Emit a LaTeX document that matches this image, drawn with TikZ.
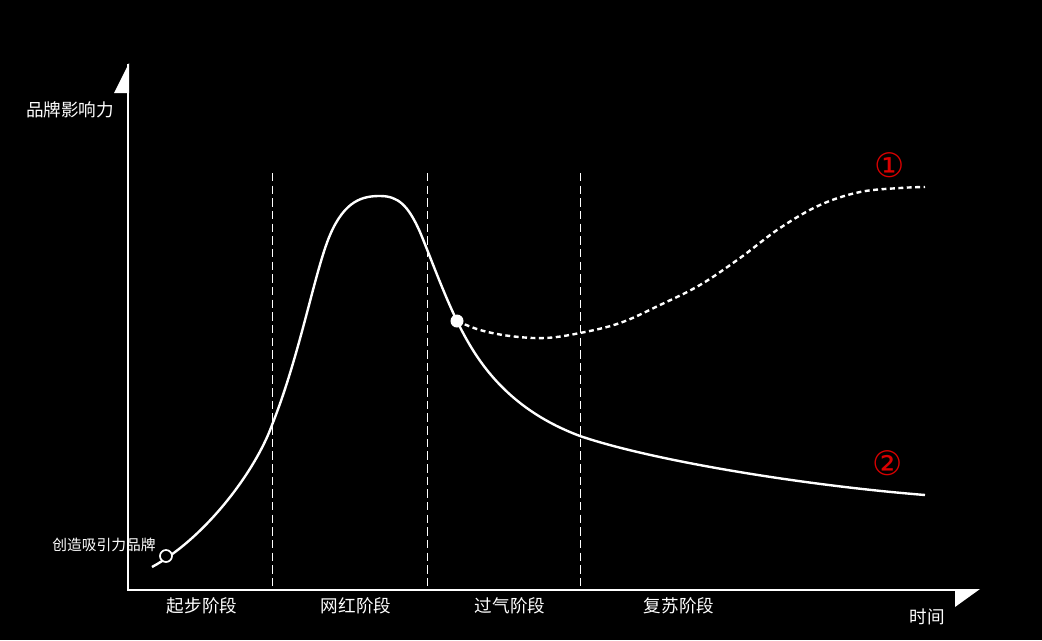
\documentclass[tikz,border=0pt]{standalone}
\usepackage{fontspec}
\setmainfont{Noto Sans CJK SC}
\newfontfamily\symfont{DejaVu Sans}
\begin{document}
\begin{tikzpicture}[x=0.025cm,y=-0.025cm,
  lbl/.style={text=white,font=\fontsize{12.5}{14}\selectfont,inner sep=0pt},
  vdash/.style={white,line width=0.7pt,dash pattern=on 6pt off 3pt},
  curve/.style={white,line width=1.7pt},
  num/.style={text=red!85!black,font=\symfont\fontsize{24}{26}\selectfont,inner sep=0pt}]
\fill[black] (0,0) rectangle (1042,640);
\useasboundingbox (0,0) rectangle (1042,640);
% axes
\coordinate (O) at (128,590);
\coordinate (Ytop) at (128,64);
\coordinate (Xend) at (956,590);
\draw[white,line width=1.5pt] (Xend) -- (O) -- (Ytop);
\fill[white] (129,63) -- (129,93) -- (114,93) -- cycle;
\fill[white] (955,589) -- (980,589) -- (955,607) -- cycle;
% dashed separators
\foreach \x in {272,427,580} \draw[vdash] (\x,173) -- (\x,590);
% markers positions
\coordinate (start) at (166,556);
\coordinate (split) at (457,321);
% solid curve
\draw[curve] (152,567) .. controls (205,538) and (255,472) .. (272,425)
  .. controls (300,355) and (315,270) .. (330,235)
  .. controls (345,200) and (363,196) .. (380,196)
  .. controls (398,196) and (408,205) .. (420,232)
  .. controls (430,256) and (443,292) .. (split)
  .. controls (475,358) and (505,408) .. (580,436)
  .. controls (650,460) and (800,485) .. (925,495);
% dotted curve
\draw[white,line width=1.7pt,dash pattern=on 3.5pt off 2.5pt] plot[smooth,tension=0.6] coordinates {(457,321) (480,330) (510,336) (545,338) (580,333) (620,323) (660,305) (700,285) (740,258) (780,228) (820,205) (860,192) (900,188) (925,187)};
% markers
\fill[white] (split) circle (6.5);
\draw[white,line width=1.2pt,fill=black] (start) circle (6);
% labels
\node[lbl] (ylab) at (70,110) {品牌影响力};
\node[lbl] (xlab) at (927,617) {时间};
\node[lbl] (s1) at (202,606) {起步阶段};
\node[lbl] (s2) at (356,606) {网红阶段};
\node[lbl] (s3) at (510,606) {过气阶段};
\node[lbl] (s4) at (679,606) {复苏阶段};
\node[lbl,font=\fontsize{10.5}{12}\selectfont] (brand) at (104,545) {创造吸引力品牌};
\node[num] (n1) at (890,165) {①};
\node[num] (n2) at (888,463) {②};
\end{tikzpicture}
\end{document}
